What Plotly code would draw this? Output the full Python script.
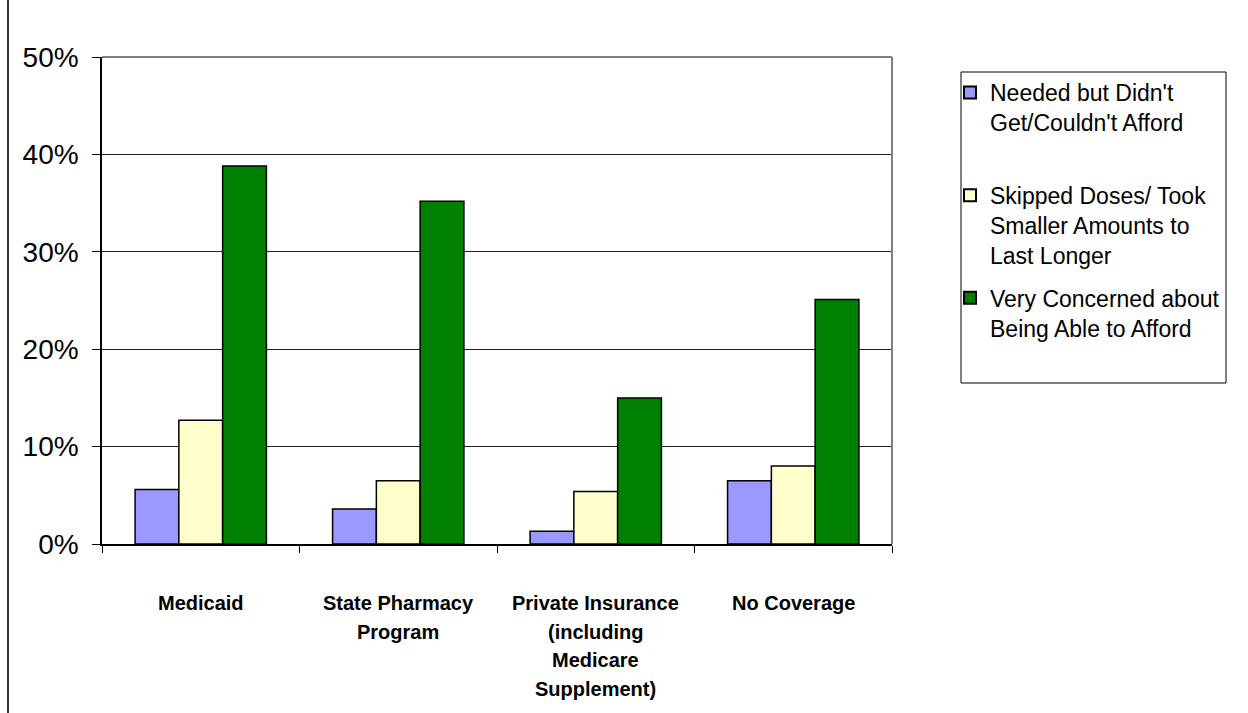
import plotly.graph_objects as go

# Coverage groups and the share (%) reporting each prescription-cost problem
categories = ["Medicaid", "State Pharmacy Program", "Private Insurance", "No Coverage"]
category_lines = [
    ["Medicaid"],
    ["State Pharmacy", "Program"],
    ["Private Insurance", "(including", "Medicare", "Supplement)"],
    ["No Coverage"],
]
needed_not_afford = [5.6, 3.6, 1.3, 6.5]
skipped_doses = [12.7, 6.5, 5.4, 8.0]
very_concerned = [38.8, 35.2, 15.0, 25.1]

series_names = [
    "Needed but Didn't<br>Get/Couldn't Afford<br> ",
    "Skipped Doses/ Took<br>Smaller Amounts to<br>Last Longer",
    "Very Concerned about<br>Being Able to Afford<br> ",
]
series_values = [needed_not_afford, skipped_doses, very_concerned]
series_colors = ["#9999FF", "#FFFFCC", "#008000"]

FONT = "Liberation Sans, Arial, sans-serif"

fig = go.Figure()
for i, (name, vals, col) in enumerate(zip(series_names, series_values, series_colors)):
    fig.add_trace(go.Bar(
        x=categories, y=vals, name=name,
        marker=dict(color=col, line=dict(color="black", width=1.5)),
        legendgroup=f"g{i}",
    ))

# multi-line category labels under the axis
annotations = []
for cat, lines in zip(categories, category_lines):
    for j, line in enumerate(lines):
        annotations.append(dict(
            x=cat, xref="x", y=0, yref="paper",
            text=f"<b>{line}</b>", showarrow=False,
            xanchor="center", yanchor="middle",
            yshift=-(59 + 28.5 * j),
            font=dict(family=FONT, size=20, color="black"),
        ))

shapes = [
    # plot-area border on top and right
    dict(type="line", xref="paper", yref="paper", x0=0, x1=1, y0=1, y1=1,
         line=dict(color="#808080", width=2), layer="above"),
    dict(type="line", xref="paper", yref="paper", x0=1, x1=1, y0=0, y1=1,
         line=dict(color="#808080", width=2), layer="above"),
    # legend frame
    dict(type="rect", xref="paper", yref="paper",
         x0=(961 - 102) / 790, x1=(1226 - 102) / 790,
         y0=(544 - 383) / 487, y1=(544 - 72) / 487,
         line=dict(color="black", width=1)),
    # chart-area edge on the left
    dict(type="line", xref="paper", yref="paper",
         x0=(8 - 102) / 790, x1=(8 - 102) / 790, y0=-0.4, y1=1.2,
         line=dict(color="#333333", width=2)),
]

fig.update_layout(
    width=1248, height=713,
    margin=dict(l=102, r=356, t=57, b=169),
    paper_bgcolor="white", plot_bgcolor="white",
    barmode="group", bargap=0.335, bargroupgap=0,
    font=dict(family=FONT, color="black"),
    showlegend=True,
    legend=dict(
        x=(950 - 102) / 790, y=(544 - 71) / 487, xanchor="left", yanchor="top",
        font=dict(family=FONT, size=23, color="black"),
        bgcolor="rgba(0,0,0,0)", borderwidth=0,
        traceorder="grouped", tracegroupgap=10, itemsizing="constant",
        valign="top",
    ),
    annotations=annotations,
    shapes=shapes,
)

fig.update_xaxes(
    showline=True, linecolor="black", linewidth=1.5,
    ticks="outside", tickson="boundaries", ticklen=7, tickcolor="black",
    showticklabels=False, showgrid=False,
)
fig.update_yaxes(
    range=[0, 50], dtick=10, ticksuffix="%",
    showline=True, linecolor="black", linewidth=1.5,
    ticks="outside", ticklen=8, tickcolor="black",
    ticklabelstandoff=8,
    tickfont=dict(family=FONT, size=28, color="black"),
    showgrid=True, gridcolor="#222222", gridwidth=1,
    zeroline=False,
)

fig.write_html("out.html")
